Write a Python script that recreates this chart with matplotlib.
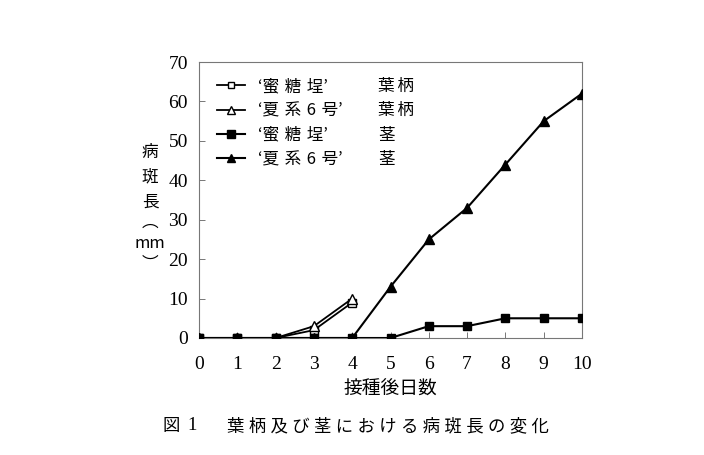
import matplotlib
matplotlib.use("Agg")
import matplotlib.pyplot as plt

days_petiole = [0, 1, 2, 3, 4]
mitsu_petiole = [0, 0, 0, 2, 9]
natsu_petiole = [0, 0, 0, 3, 10]
days_stem = [0, 1, 2, 3, 4, 5, 6, 7, 8, 9, 10]
mitsu_stem = [0, 0, 0, 0, 0, 0, 3, 3, 5, 5, 5]
natsu_stem = [0, 0, 0, 0, 0, 13, 25, 33, 44, 55, 62]
S = "\u2004"
cultivars = [f"‘蜜{S}糖{S}埕’", f"‘夏{S}系{S}6{S}号’", f"‘蜜{S}糖{S}埕’", f"‘夏{S}系{S}6{S}号’"]
organs = ["葉\u2006柄", "葉\u2006柄", "茎", "茎"]
xticks = list(range(0, 11))
yticks = list(range(0, 71, 10))
ylabel_parts = ["病", "斑", "長", "︵", "mm", "︶"]
caption = "\u2005".join("葉柄及び茎における病斑長の変化")

cjk = ["Noto Sans CJK JP", "DejaVu Sans"]
serif = ["Liberation Serif", "DejaVu Serif"]

W, H = 704, 455
fig = plt.figure(figsize=(W / 100, H / 100), dpi=100)
ax = fig.add_axes([199 / W, 1 - 338 / H, 383 / W, 276 / H])

ax.plot(days_petiole, mitsu_petiole, color="black", lw=1.3, marker="s", ms=5.5,
        mfc="white", mec="black", mew=1.0, label=cultivars[0], zorder=3)
ax.plot(days_petiole, natsu_petiole, color="black", lw=1.3, marker="^", ms=6.5,
        mfc="white", mec="black", mew=1.0, label=cultivars[1], zorder=3)
ax.plot(days_stem, mitsu_stem, color="black", lw=1.5, marker="s", ms=6.3,
        mfc="black", mec="black", label=cultivars[2], zorder=4)
ax.plot(days_stem, natsu_stem, color="black", lw=1.5, marker="^", ms=7,
        mfc="black", mec="black", label=cultivars[3], zorder=4)

ax.set_xlim(0, 10)
ax.set_ylim(0, 70)
ax.set_xticks(xticks)
ax.set_yticks(yticks)
for s in ax.spines.values():
    s.set_color("#777777")
    s.set_linewidth(0.8)
ax.tick_params(direction="in", length=4, width=0.7, color="#777777", labelsize=14)
ax.tick_params(axis="y", pad=8)
ax.tick_params(axis="x", pad=13)
for lab in ax.get_xticklabels() + ax.get_yticklabels():
    lab.set_family(serif)

ax.set_xlabel("接種後日数", family=cjk, fontsize=13.5, labelpad=4)

for part, yp in zip(ylabel_parts, [153, 177, 202, 222, 243, 264]):
    fig.text(150 / W, 1 - yp / H, part, family=cjk, fontsize=12,
             ha="center", va="center")

fig.text(162 / W, 1 - 426 / H, "図", family=cjk, fontsize=12.5, ha="left", va="center")
fig.text(187 / W, 1 - 426 / H, "1", family=serif, fontsize=13.5, ha="left", va="center")
fig.text(227 / W, 1 - 426 / H, caption, family=cjk, fontsize=12.5, ha="left", va="center")

leg = ax.legend(loc="upper left", frameon=False, prop={"family": cjk, "size": 12},
                handlelength=1.68, handletextpad=0.78, labelspacing=0.44,
                borderpad=0, borderaxespad=0, markerscale=0.85,
                bbox_to_anchor=(0.047, 0.942))

fig.canvas.draw()
inv = ax.transAxes.inverted()
for txt, organ in zip(leg.get_texts(), organs):
    bb = txt.get_window_extent()
    yc = inv.transform((0, (bb.y0 + bb.y1) / 2))[1]
    ax.text((378 - 199) / 383, yc, organ, transform=ax.transAxes, family=cjk,
            fontsize=12, ha="left", va="center")

fig.savefig("out.png", dpi=100)
